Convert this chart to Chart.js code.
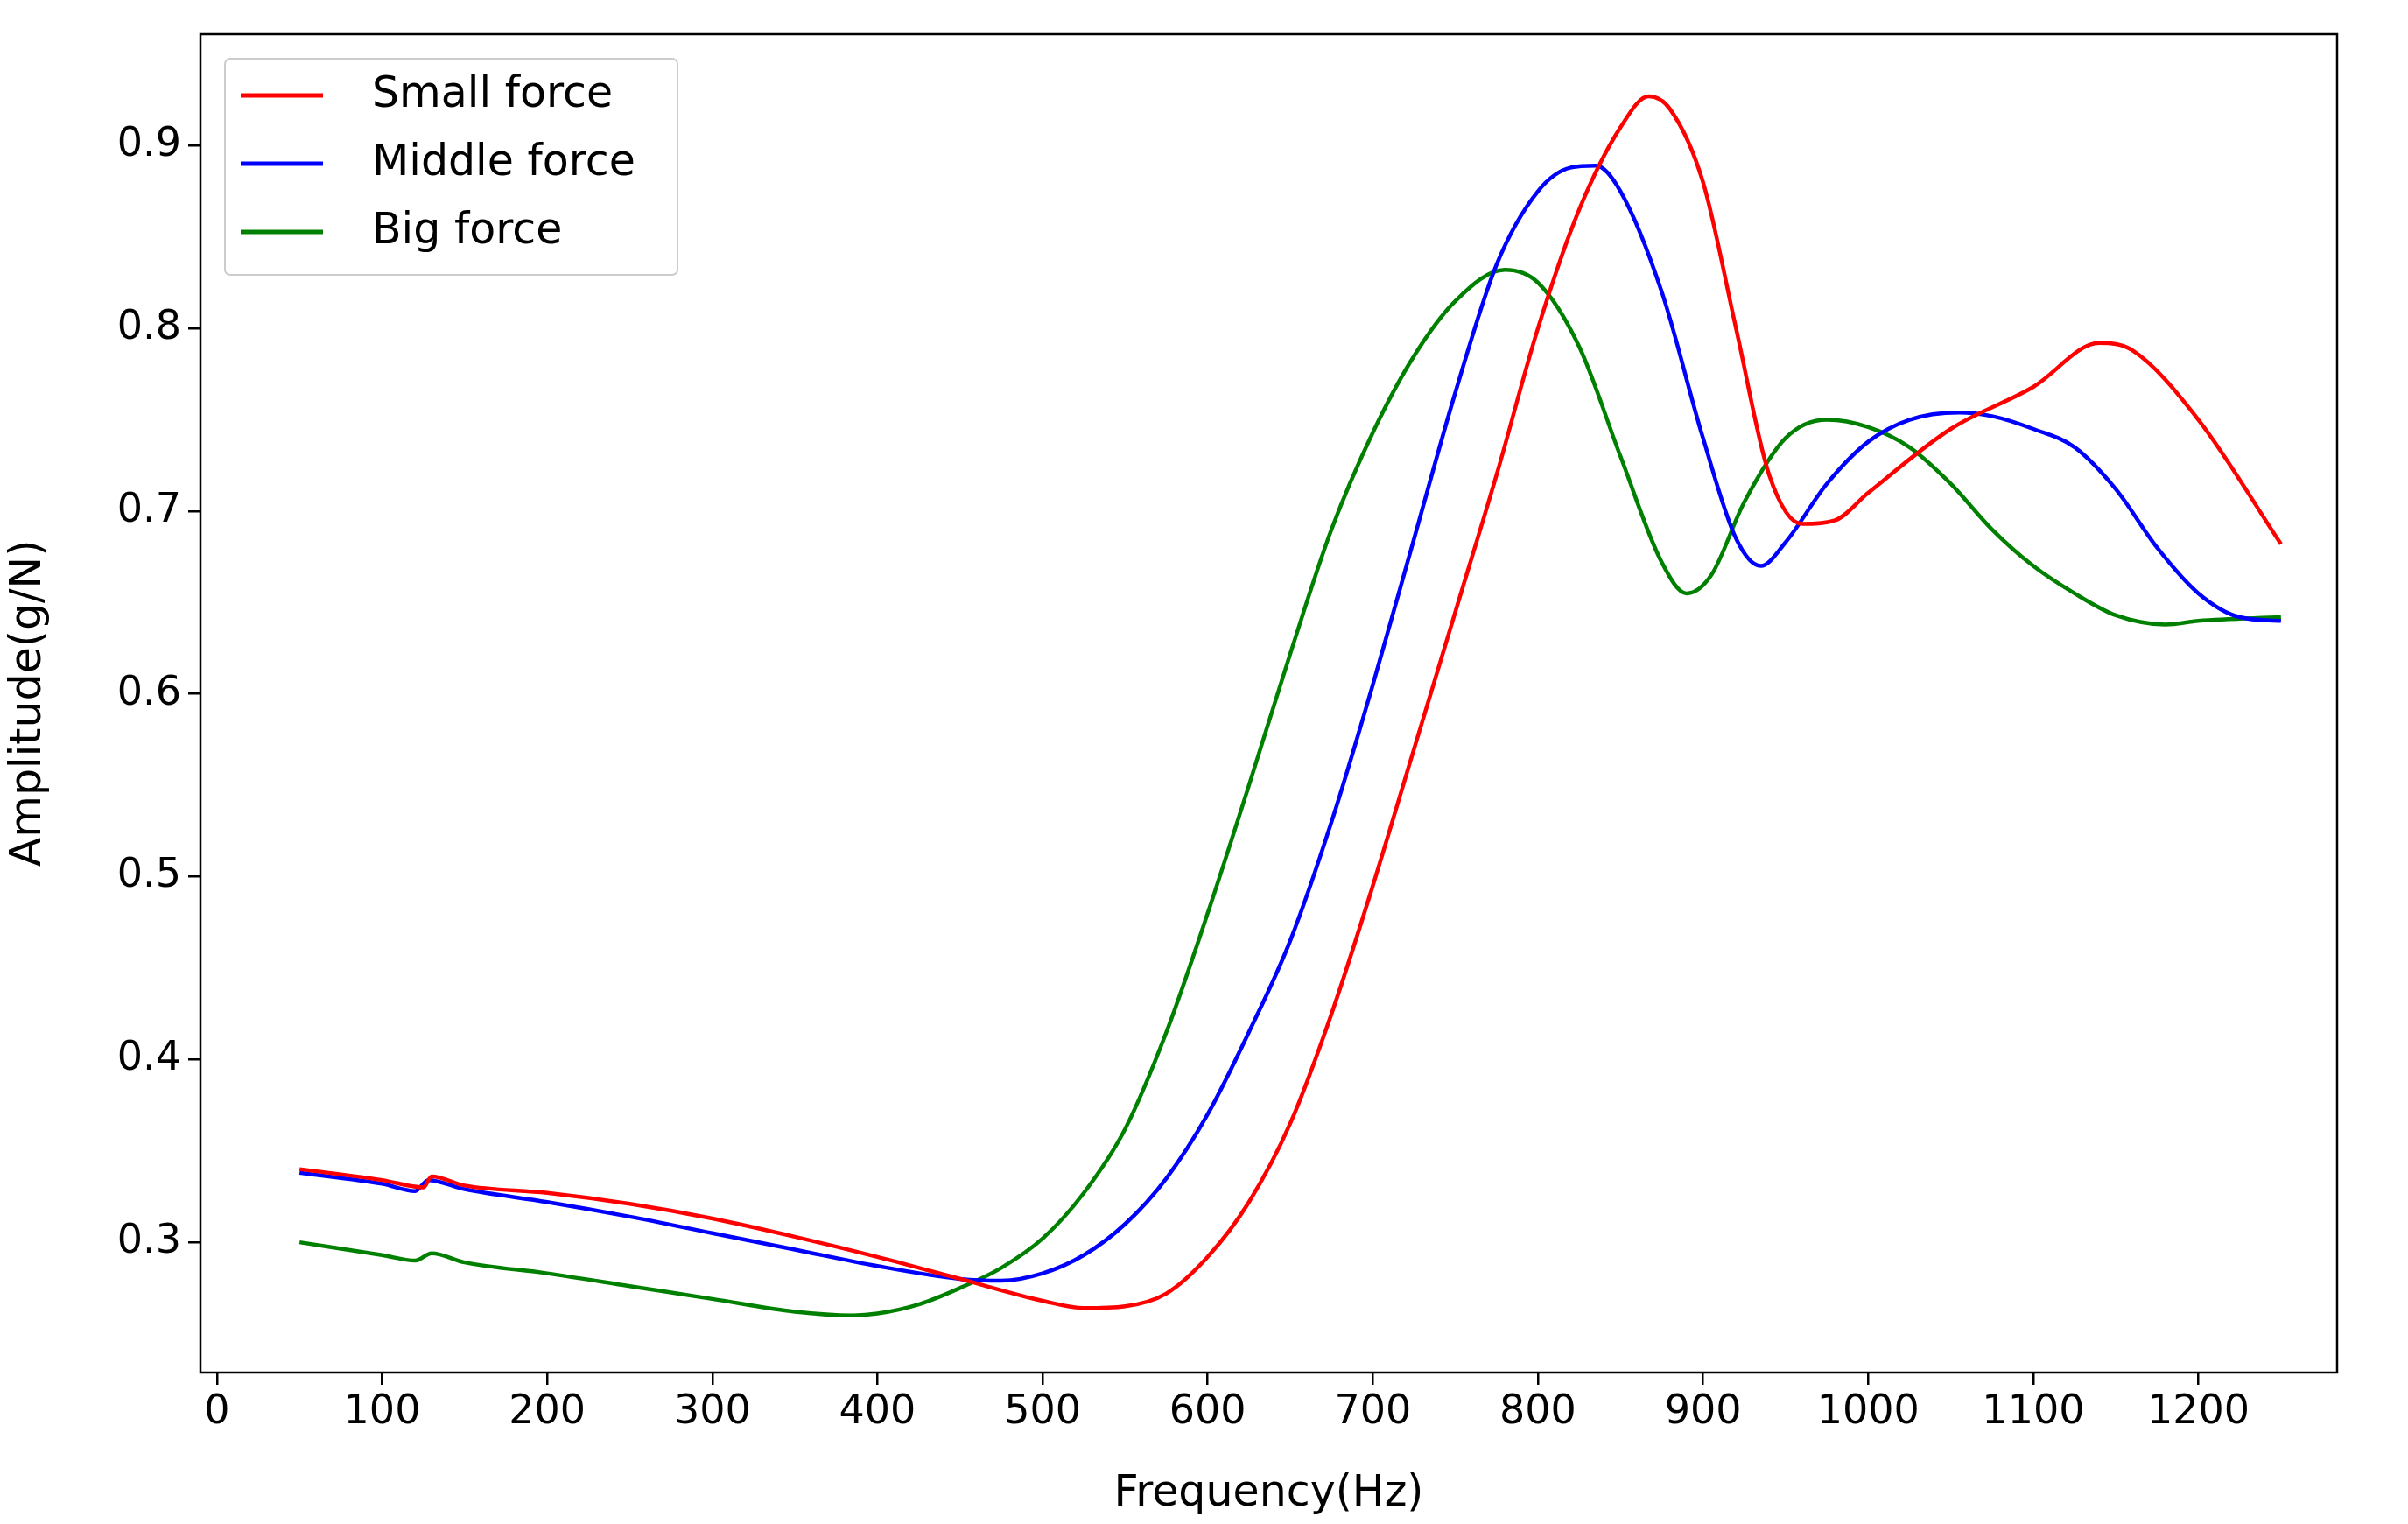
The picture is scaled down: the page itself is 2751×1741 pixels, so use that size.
<!DOCTYPE html>
<html><head><meta charset="utf-8">
<script src="https://cdn.jsdelivr.net/npm/chart.js@4/dist/chart.umd.min.js"></script>
<style>html,body{margin:0;background:#fff}canvas{display:block}</style>
</head><body>
<div style="width:2751px;height:1741px"><canvas id="c" width="2751" height="1741"></canvas></div>
<script>
const smallX=[50,100,125,130,150,200,250,300,350,400,450,500,525,550,575,600,625,650,675,700,725,750,775,800,825,850,867,880,900,920,940,960,980,1000,1050,1100,1140,1160,1200,1250];
const smallY=[0.340,0.334,0.330,0.336,0.331,0.327,0.321,0.313,0.303,0.292,0.280,0.268,0.264,0.265,0.272,0.292,0.322,0.365,0.425,0.495,0.570,0.645,0.720,0.800,0.865,0.910,0.927,0.920,0.880,0.800,0.720,0.693,0.695,0.710,0.745,0.768,0.792,0.788,0.750,0.682];
const midX=[50,100,120,128,150,200,250,300,350,400,450,475,500,525,550,575,600,625,650,675,700,725,750,775,800,820,835,850,875,900,920,935,950,975,1000,1025,1055,1075,1100,1125,1150,1175,1200,1225,1250];
const midY=[0.338,0.332,0.328,0.334,0.329,0.322,0.314,0.305,0.296,0.287,0.280,0.279,0.283,0.293,0.310,0.335,0.370,0.415,0.465,0.530,0.605,0.685,0.765,0.835,0.875,0.888,0.889,0.875,0.820,0.740,0.685,0.670,0.683,0.715,0.738,0.750,0.754,0.752,0.745,0.735,0.712,0.680,0.655,0.642,0.640];
const bigX=[50,100,120,130,150,200,250,300,350,385,400,425,450,475,500,525,550,575,600,625,650,675,700,725,750,780,800,825,850,875,890,905,925,950,975,1000,1025,1050,1075,1100,1125,1150,1180,1200,1250];
const bigY=[0.300,0.293,0.290,0.294,0.289,0.283,0.276,0.269,0.262,0.260,0.261,0.266,0.275,0.286,0.302,0.327,0.362,0.415,0.480,0.550,0.622,0.690,0.743,0.785,0.815,0.832,0.825,0.790,0.730,0.672,0.655,0.665,0.705,0.740,0.750,0.746,0.735,0.715,0.690,0.670,0.655,0.643,0.638,0.640,0.642];
const xTicks=[0,100,200,300,400,500,600,700,800,900,1000,1100,1200];
const yTicks=[0.3,0.4,0.5,0.6,0.7,0.8,0.9];
const names=['Small force','Middle force','Big force'];
const colors=['#ff0000','#0000ff','#008000'];
const pts=(xs,ys)=>xs.map((x,i)=>({x,y:ys[i]}));
const FONT='"DejaVu Sans", sans-serif';
const boxPlugin={id:'box',afterDraw(ch){const a=ch.chartArea,c=ch.ctx;c.save();c.strokeStyle='#000';c.lineWidth=2.5;c.strokeRect(a.left,a.top,a.right-a.left,a.bottom-a.top);
const lx=a.left+28,ly=a.top+28,w=517,h=247;c.fillStyle='rgba(255,255,255,0.8)';c.strokeStyle='#ccc';c.lineWidth=2;
c.beginPath();c.roundRect(lx,ly,w,h,6);c.fill();c.stroke();
c.font='49px '+FONT;c.textBaseline='middle';
for(let i=0;i<3;i++){const yy=ly+42+i*78;c.strokeStyle=colors[i];c.lineWidth=5;c.beginPath();c.moveTo(lx+18,yy);c.lineTo(lx+112,yy);c.stroke();c.fillStyle='#000';c.fillText(names[i],lx+168,yy);}
c.restore();}};
new Chart(document.getElementById('c'),{type:'line',
data:{datasets:[pts(smallX,smallY),pts(midX,midY),pts(bigX,bigY)].map((d,i)=>({label:names[i],data:d,borderColor:colors[i],borderWidth:4.5,pointRadius:0,cubicInterpolationMode:'monotone',fill:false}))},
options:{responsive:false,animation:false,layout:{padding:{top:39,right:81,left:0,bottom:0}},
plugins:{legend:{display:false},tooltip:{enabled:false}},
scales:{
x:{type:'linear',min:-10,max:1284,afterBuildTicks(s){s.ticks=xTicks.map(v=>({value:v}));},afterFit(s){s.height=173;},
grid:{drawOnChartArea:false,tickLength:14,color:'#000',lineWidth:2.5},border:{display:false},
ticks:{color:'#000',font:{size:46,family:FONT},padding:4,maxRotation:0,autoSkip:false,callback:v=>String(v)},
title:{display:true,text:'Frequency(Hz)',color:'#000',font:{size:49,family:FONT},padding:{top:4}}},
y:{type:'linear',min:0.2287,max:0.961,afterBuildTicks(s){s.ticks=yTicks.map(v=>({value:v}));},afterFit(s){s.width=229;},
grid:{drawOnChartArea:false,tickLength:14,color:'#000',lineWidth:2.5},border:{display:false},
ticks:{color:'#000',font:{size:46,family:FONT},padding:8,callback:v=>v.toFixed(1)},
title:{display:true,text:'Amplitude(g/N)',color:'#000',font:{size:49,family:FONT},padding:{bottom:6}}}
}},plugins:[boxPlugin]});
</script></body></html>
